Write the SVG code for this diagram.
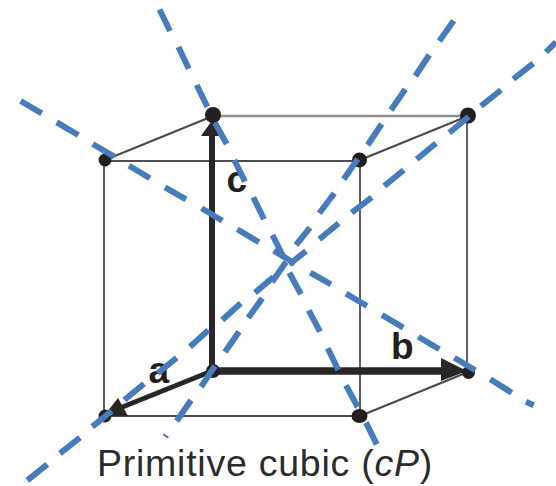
<svg xmlns="http://www.w3.org/2000/svg" width="556" height="486" viewBox="0 0 556 486">
<style>
.thin{stroke:#4f4d4d;stroke-width:1.8;fill:none}
.pale{stroke:#8f8f8f;stroke-width:2.6;fill:none}
.edge{stroke:#4a4848;stroke-width:2;fill:none}
.thick{stroke:#2a2626;fill:none}
.atom{fill:#231f20}
.head{fill:#2a2626}
.diag{stroke:#477cbc;stroke-width:6;fill:none}
text{font-family:"Liberation Sans",Arial,sans-serif;fill:#231f20}
.lab{font-size:37px;font-weight:bold}
.cap{font-size:37.5px;letter-spacing:.75px;fill:#2b2b2b}
</style>
<rect width="556" height="486" fill="#fff"/>
<g id="connectors">
<path class="thin" d="M104 161H360M104 161V416M104 416H360M360 161V416M467 116V372"/>
<path class="pale" d="M213 116H467"/>
<path class="edge" d="M105 160L213 116M360 160L468 116M360 416L468 372"/>
<path class="thick" stroke-width="6" d="M212 371V130"/>
<path class="thick" stroke-width="7.5" d="M212 371H445"/>
<path class="thick" stroke-width="5" d="M212 371L120 408"/>
<polygon class="head" points="213,119 201,136 219,136"/>
<polygon class="head" points="467,371 441,358 441,381"/>
<polygon class="head" points="104,416 118,398 128,416"/>
</g>
<g id="atom-top-back-left"><circle class="atom" cx="213" cy="115" r="8"/></g>
<g id="atom-top-back-right"><circle class="atom" cx="468" cy="115.500" r="8"/></g>
<g id="atom-top-front-left"><circle class="atom" cx="105" cy="160" r="6.500"/></g>
<g id="atom-top-front-right"><circle class="atom" cx="359.500" cy="160" r="7.500"/></g>
<g id="atom-bottom-back-left"><circle class="atom" cx="213" cy="371" r="7"/></g>
<g id="atom-bottom-back-right"><circle class="atom" cx="468.500" cy="372.500" r="6.500"/></g>
<g id="atom-bottom-front-left"><circle class="atom" cx="105" cy="416" r="6.500"/></g>
<g id="atom-bottom-front-right"><ellipse class="atom" cx="359.500" cy="416" rx="8" ry="7"/></g>
<g id="labels">
<text class="lab" x="226.500" y="191.500">c</text>
<text class="lab" x="148.500" y="382.500">a</text>
<text class="lab" x="391" y="358.500">b</text>
<text class="cap" x="97" y="476">Primitive cubic (<tspan font-style="italic">cP</tspan>)</text>
</g>
<g id="diagonals">
<path class="diag" d="M159.500 9.500L170 31M178.500 47L188.700 68.700M196.700 85L207.300 106.700M215 122.700L226.700 144M234.300 160L245 181.700M253.300 197.300L264 219.300M272.500 235L284 258M289.300 272.700L301 294.300M308.700 310.300L320 331.700M327.700 348.300L338.300 370M346 385.300L357.700 407M366 422.700L376.700 444.300"/>
<path class="diag" d="M20.700 101L41.700 113.300M56.700 122.300L78.300 135M92.700 144L114.300 156.700M129 165.700L150 178.300M165 187.300L186 199.300M201.700 208.300L222.300 220.700M237.300 229.300L259 242.300M273.700 250.700L295 263.500M310.300 272.700L331 284.300M346 293.700L367 306M382 315L403.300 327.700M418.300 336.700L439.300 349.300M454.300 357.700L475.300 370.300M490.300 379.300L511.700 392.700M526 401.700L533.700 405.300"/>
<path class="diag" d="M556 42L546 52M533.300 63.300L513.300 79M501 90L481 106M468.700 116.700L449.300 132.700M436 143.300L416.700 159.300M403.700 170L384.300 186M371.700 197.300L351.700 212.700M338.700 223.300L319.300 239.300M306 251L289.300 264.300M273.500 277L255 292.700M240.700 303.300L222.300 320M208.300 330.300L190 346.700M176.700 357.700L157.700 373.300M144 383.700L124.300 400M111.700 411L92.300 426.700M80 437.700L60 453.300M47.300 464.300L27.300 480.300"/>
<path class="diag" d="M453.700 20.700L439.300 41M429.300 55L415.300 76M405.300 89.300L391 110M381.700 124L367.700 145M357.700 159L343.700 179.300M334.300 193.300L319.300 213.300M310 227.700L296 245M286 262L272 282M262.300 298.300L248.300 317.700M239 331.700L225 352M215 366L201 386.700M191 400.300L176.700 421"/>
<path class="diag" style="stroke-width:2" d="M163.300 434.300L168.300 437.700"/>
</g>
</svg>
